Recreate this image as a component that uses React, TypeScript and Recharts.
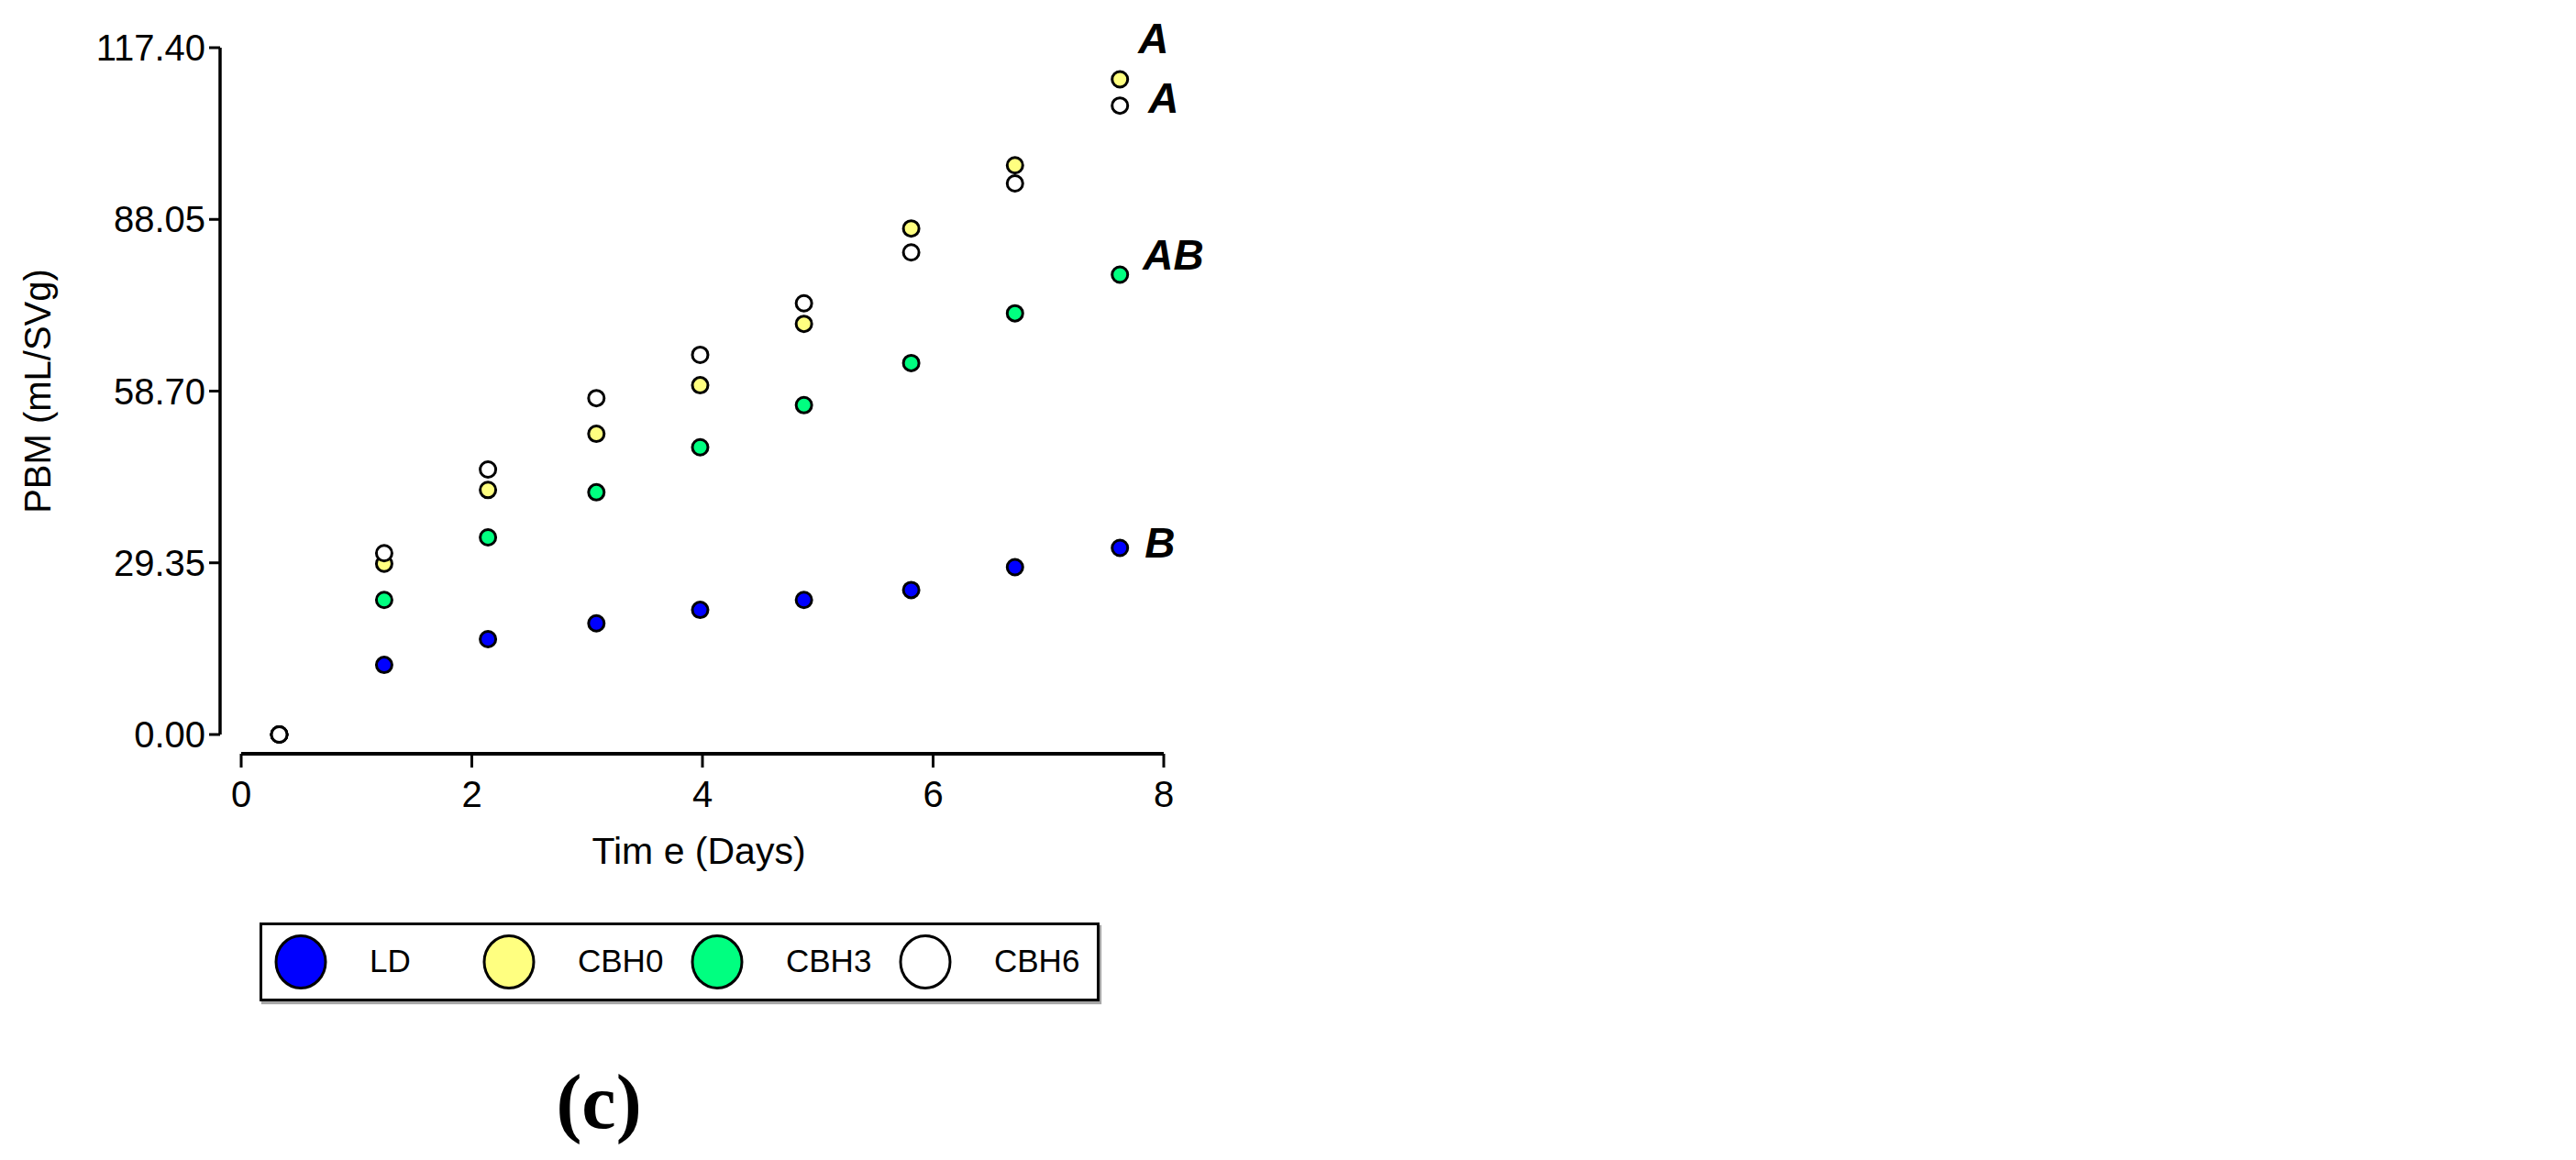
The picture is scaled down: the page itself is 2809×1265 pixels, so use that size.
import React from 'react';
import { ScatterChart, Scatter, XAxis, YAxis, ReferenceLine, Legend } from 'recharts';

// sampling times (days)
const days = [0.33, 1.24, 2.14, 3.08, 3.98, 4.88, 5.81, 6.71, 7.62];

// PBM (mL/SVg) per treatment
const ldValues = [0, 11.9, 16.3, 19.0, 21.3, 23.0, 24.7, 28.6, 31.9];
const cbh0Values = [0, 29.2, 41.8, 51.4, 59.7, 70.2, 86.5, 97.3, 112.0];
const cbh3Values = [0, 23.0, 33.7, 41.4, 49.1, 56.3, 63.5, 72.0, 78.6];
const cbh6Values = [0, 31.0, 45.3, 57.5, 64.9, 73.7, 82.4, 94.2, 107.5];

const seriesNames = ['LD', 'CBH0', 'CBH3', 'CBH6'];
const seriesColors = ['#0000FF', '#FFFF80', '#00FF80', '#FFFFFF'];
// letters of significance, shown next to the last point of each series
const sigLetters = ['B', 'A', 'AB', 'A'];

const xTicks = [0, 2, 4, 6, 8];
const yTicks = [0, 29.35, 58.7, 88.05, 117.4];

const FONT = 'Liberation Sans, Arial, sans-serif';
const PAD_LEFT = 23;
const PAD_BOTTOM = 21;

// letter placement (baseline) relative to the point, px
const letterOffsets = [
  { dx: 27, dy: 11 },
  { dx: 20, dy: -28 },
  { dx: 25, dy: -6 },
  { dx: 31, dy: 8 }
];

const allValues = [ldValues, cbh0Values, cbh3Values, cbh6Values];

const buildSeries = (values: number[], s: number) =>
  values.map((v, i) => ({
    x: days[i],
    y: v,
    letter: i === values.length - 1 ? sigLetters[s] : null
  }));

const makeShape = (s: number) => (props: any) => {
  const { cx, cy, payload } = props;
  if (cx == null || cy == null) return <g />;
  const off = letterOffsets[s];
  return (
    <g>
      <circle cx={cx} cy={cy} r={8.5} fill={seriesColors[s]} stroke="#000" strokeWidth={3} />
      {payload && payload.letter && (
        <text
          x={cx + off.dx}
          y={cy + off.dy}
          fontFamily={FONT}
          fontSize={46}
          fontWeight="bold"
          fontStyle="italic"
          fill="#000"
        >
          {payload.letter}
        </text>
      )}
    </g>
  );
};

const renderLegend = () => (
  <div
    style={{
      boxSizing: 'border-box',
      width: 916,
      height: 86,
      border: '3px solid #000',
      boxShadow: '2px 3px 1px rgba(0,0,0,0.35)',
      background: '#fff',
      position: 'relative',
      fontFamily: FONT
    }}
  >
    {seriesNames.map((name, i) => (
      <div key={name} style={{ position: 'absolute', left: 13 + i * 227, top: 7, width: 227, height: 66 }}>
        <svg width={62} height={66} style={{ position: 'absolute', left: 0, top: 0 }}>
          <ellipse cx={29} cy={33} rx={27} ry={28.5} fill={seriesColors[i]} stroke="#000" strokeWidth={3} />
        </svg>
        <span
          style={{
            position: 'absolute',
            left: 104,
            top: 14,
            fontSize: 35,
            lineHeight: '35px',
            color: '#000'
          }}
        >
          {name}
        </span>
      </div>
    ))}
  </div>
);

const YLabel = (props: any) => {
  const vb = props.viewBox || { x: 40, y: 52, width: 200, height: 770 };
  const bx = vb.x + 15;
  const cy = vb.y + (vb.height - PAD_BOTTOM) / 2;
  return (
    <text
      x={bx}
      y={cy}
      transform={`rotate(-90 ${bx} ${cy})`}
      textAnchor="middle"
      fontFamily={FONT}
      fontSize={40}
      fill="#000"
    >
      PBM (mL/SVg)
    </text>
  );
};

const XLabel = (props: any) => {
  const vb = props.viewBox || { x: 240, y: 822, width: 1029, height: 60 };
  const cx = vb.x + PAD_LEFT + (vb.width - PAD_LEFT) / 2 - 4;
  return (
    <text x={cx} y={vb.y + 120} textAnchor="middle" fontFamily={FONT} fontSize={41} fill="#000">
      Tim e (Days)
    </text>
  );
};

export default function App() {
  const tickStyle = { fill: '#000', fontSize: 40, fontFamily: FONT };
  return (
    <div style={{ position: 'absolute', left: 0, top: 0, width: 2809, height: 1265, background: '#fff' }}>
      <ScatterChart width={2809} height={1265} margin={{ top: 52, right: 1540, bottom: 383, left: 40 }}>
        <XAxis
          type="number"
          dataKey="x"
          domain={[0, 8]}
          ticks={xTicks}
          padding={{ left: PAD_LEFT, right: 0 }}
          axisLine={false}
          tickLine={{ stroke: '#000', strokeWidth: 3 }}
          tickSize={15}
          tickMargin={15}
          tick={tickStyle}
          height={60}
          label={{ content: XLabel }}
        />
        <YAxis
          type="number"
          dataKey="y"
          domain={[0, 117.4]}
          ticks={yTicks}
          padding={{ top: 0, bottom: PAD_BOTTOM }}
          axisLine={false}
          tickLine={{ stroke: '#000', strokeWidth: 3 }}
          tickSize={12}
          tickMargin={4}
          tick={tickStyle}
          tickFormatter={(v: number) => v.toFixed(2)}
          width={200}
          label={{ content: YLabel }}
        />
        {/* offset axis lines, Prism style */}
        <ReferenceLine
          segment={[{ x: 0, y: -3.29 }, { x: 8, y: -3.29 }]}
          stroke="#000"
          strokeWidth={4}
          ifOverflow="visible"
        />
        <ReferenceLine
          segment={[{ x: -0.183, y: 0 }, { x: -0.183, y: 117.4 }]}
          stroke="#000"
          strokeWidth={3.5}
          ifOverflow="visible"
        />
        {allValues.map((vals, s) => (
          <Scatter
            key={seriesNames[s]}
            name={seriesNames[s]}
            data={buildSeries(vals, s)}
            fill={seriesColors[s]}
            shape={makeShape(s)}
            isAnimationActive={false}
          />
        ))}
        <Legend
          layout="horizontal"
          verticalAlign="middle"
          align="center"
          content={renderLegend}
          wrapperStyle={{ left: 283, top: 1006, width: 916, height: 86 }}
        />
      </ScatterChart>
      <svg
        width={2809}
        height={1265}
        style={{ position: 'absolute', left: 0, top: 0, pointerEvents: 'none' }}
      >
        <text x={653} y={1230} textAnchor="middle" fontFamily="Liberation Serif, Times New Roman, serif" fontSize={84} fontWeight="bold" fill="#000">
          (c)
        </text>
      </svg>
    </div>
  );
}
